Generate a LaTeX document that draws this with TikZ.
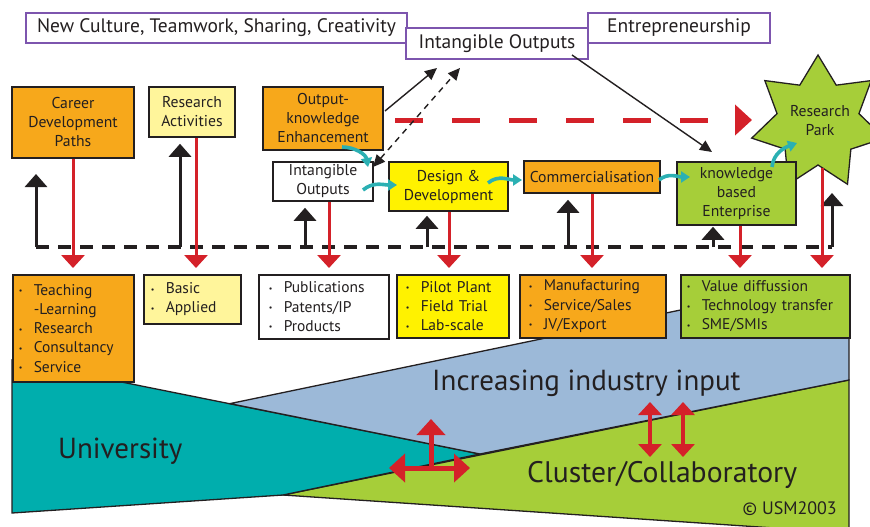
\documentclass[tikz,border=0pt]{standalone}
\usepackage{fontspec}
\setmainfont{PT Sans}
\usetikzlibrary{arrows.meta,calc}
\definecolor{orangebox}{HTML}{F7A81B}
\definecolor{lightyel}{HTML}{FFF59B}
\definecolor{yelbox}{HTML}{FFF200}
\definecolor{greenbox}{HTML}{A6CE39}
\definecolor{tealreg}{HTML}{00AEAD}
\definecolor{bluereg}{HTML}{9CB9D8}
\definecolor{redar}{HTML}{D42129}
\definecolor{purpleline}{HTML}{7D55AE}
\definecolor{tealar}{HTML}{2BB0B3}
\definecolor{txt}{HTML}{231F20}
\newcommand{\bi}[1]{\makebox[15pt][l]{\raisebox{1.5pt}{\fontsize{8}{8}\selectfont\textbullet}}#1}
\newcommand{\nb}[1]{\hspace*{15pt}#1}
\tikzset{
 box/.style={draw=txt, line width=1.5pt, text=txt, font=\fontsize{15.7}{19}\selectfont, align=center, inner sep=0pt},
 topbox/.style={draw=purpleline, line width=1.5pt, fill=white, text=txt, font=\fontsize{19.5}{22}\selectfont, inner sep=0pt},
 listbox/.style={draw=txt, line width=1.5pt, text=txt, font=\fontsize{15.5}{19.3}\selectfont, align=left, anchor=north west, inner ysep=0pt},
 region/.style={draw=txt, line width=1.3pt},
 bigtext/.style={text=txt, font=\fontsize{29}{34}\selectfont, inner sep=0pt},
 uparrow/.style={line width=3pt, draw=txt, -{Triangle[width=22pt,length=13pt]}},
 downarrow/.style={line width=3pt, draw=redar, -{Triangle[width=23pt,length=13pt]}},
 thinarrow/.style={line width=1.4pt, draw=txt, -{Triangle[width=11pt,length=12pt]}},
 tealarrow/.style={line width=3.6pt, draw=tealar, -{Triangle[width=11pt,length=9pt]}},
 crossarrow/.style={line width=5pt, draw=redar, -{Triangle[width=28pt,length=16pt]}},
 dblarrow/.style={line width=3.5pt, draw=redar, {Triangle[width=23pt,length=13pt]}-{Triangle[width=23pt,length=13pt]}},
}
\begin{document}
\begin{tikzpicture}[x=1pt,y=-1pt]
\useasboundingbox (0,0) rectangle (870,527);
\fill[white] (0,0) rectangle (870,527);

% ---- bottom regions
\draw[region, fill=greenbox] (283,495) -- (849,380) -- (849,533) -- cycle;
\draw[region, fill=tealreg] (12,360) -- (480,454) -- (283,495) -- (12,513) -- cycle;
\draw[region, fill=bluereg] (230,403.6) -- (480,454) -- (849,380) -- (849,275) -- cycle;

\node[bigtext, anchor=base west] (univ) at (58,458) {University};
\node[bigtext, anchor=base west] (ind) at (432,390) {Increasing industry input};
\node[bigtext, anchor=base west, font=\fontsize{29.7}{34}\selectfont] (clus) at (527,482) {Cluster/Collaboratory};
\node[text=txt, font=\fontsize{18}{20}\selectfont, inner sep=0pt, anchor=base east] (copy) at (837,514) {© USM2003};

% red arrows in regions
\coordinate (cx) at (431,468);
\draw[crossarrow] (cx) -- (431,419);
\draw[crossarrow, {Triangle[width=28pt,length=16pt]}-{Triangle[width=28pt,length=16pt]}] (389,468) -- (470,468);
\draw[dblarrow] (650,402) -- (650,457);
\draw[dblarrow] (683,402) -- (683,457);

% ---- top boxes
\node[topbox, minimum width=381pt, minimum height=30pt] (culture) at (216.5,28) {New Culture, Teamwork, Sharing, Creativity};
\node[topbox, minimum width=182pt, minimum height=30pt] (entre) at (679,28) {Entrepreneurship};
\node[topbox, minimum width=182pt, minimum height=31pt] (intop) at (497,43.5) {Intangible Outputs};

% ---- star
\foreach \i in {0,...,6} {
  \coordinate (so\i) at ({818+68*cos(90+\i*360/7)},{123-68*sin(90+\i*360/7)});
  \coordinate (si\i) at ({818+42*cos(90+\i*360/7+180/7)},{123-42*sin(90+\i*360/7+180/7)});
}
\draw[fill=greenbox, draw=txt, line width=1.3pt] (so0) -- (si0) -- (so1) -- (si1) -- (so2) -- (si2) -- (so3) -- (si3) -- (so4) -- (si4) -- (so5) -- (si5) -- (so6) -- (si6) -- cycle;
\node[text=txt, font=\fontsize{15.7}{19}\selectfont, align=center, inner sep=0pt] (park) at (820,121) {Research\\Park};

% ---- row 1 boxes
\node[box, fill=orangebox, minimum width=122pt, minimum height=71pt] (career) at (73,122.5) {Career\\Development\\Paths};
\node[box, fill=lightyel, minimum width=86pt, minimum height=50pt] (ra) at (192,112) {Research\\Activities};
\node[box, fill=orangebox, minimum width=120pt, minimum height=63pt] (okb) at (323,118.5) {Output-\\knowledge\\Enhancement};
\node[box, fill=white, minimum width=100pt, minimum height=39pt] (io) at (323,181.5) {Intangible\\Outputs};
\node[box, fill=yelbox, minimum width=119pt, minimum height=49pt] (dd) at (448.5,186.5) {Design \&\\Development};
\node[box, fill=orangebox, minimum width=136pt, minimum height=32pt] (com) at (592,177) {Commercialisation};
\node[box, fill=greenbox, minimum width=119pt, minimum height=63pt] (kbe) at (736.5,193.5) {knowledge\\based\\Enterprise};

% ---- row 2 list boxes
\node[listbox, fill=orangebox, inner xsep=6pt, text width=109pt, minimum height=107pt] (l1) at (12,274)
  {\bi{Teaching}\\\nb{-Learning}\\\bi{Research}\\\bi{Consultancy}\\\bi{Service}};
\node[listbox, fill=lightyel, inner xsep=7pt, text width=83pt, minimum height=49pt] (l2) at (143,274)
  {\bi{Basic}\\\bi{Applied}};
\node[listbox, fill=white, inner xsep=10pt, text width=110pt, minimum height=64pt] (l3) at (258,274)
  {\bi{Publications}\\\bi{Patents/IP}\\\bi{Products}};
\node[listbox, fill=yelbox, inner xsep=9pt, text width=94pt, minimum height=63pt] (l4) at (396,274)
  {\bi{Pilot Plant}\\\bi{Field Trial}\\\bi{Lab-scale}};
\node[listbox, fill=orangebox, inner xsep=9pt, text width=128pt, minimum height=63pt] (l5) at (519,274)
  {\bi{Manufacturing}\\\bi{Service/Sales}\\\bi{JV/Export}};
\node[listbox, fill=greenbox, inner xsep=6pt, text width=157pt, minimum height=63pt] (l6) at (680,274)
  {\bi{Value diffussion}\\\bi{Technology transfer}\\\bi{SME/SMIs}};

% ---- dashed feedback line and up arrows
\coordinate (dl) at (36,247);
\coordinate (dr) at (832,247);
\draw[line width=4pt, draw=txt, dash pattern=on 13pt off 9pt] (dl) -- (dr);
\coordinate (lefttip) at (36,174);
\coordinate (parktip) at (832,193);
\draw[uparrow] (dl) -- (lefttip);
\draw[uparrow] (dr) -- (parktip);
\draw[uparrow] (180,247) -- ([yshift=-6pt]ra.south -| 180,0);
\draw[uparrow] (305,247) -- ([yshift=-6pt]io.south -| 305,0);
\draw[uparrow] (427,247) -- ([yshift=-4pt]dd.south -| 427,0);
\draw[uparrow] (568,247) -- ([yshift=-6pt]com.south -| 568,0);
\draw[uparrow] (713,247) -- ([yshift=-1pt]kbe.south -| 713,0);

% ---- red down arrows
\draw[downarrow] (career.south -| 73,0) -- ([yshift=6pt]l1.north -| 73,0);
\draw[downarrow] (ra.south -| 196,0) -- ([yshift=6pt]l2.north -| 196,0);
\draw[downarrow] (io.south -| 329,0) -- ([yshift=6pt]l3.north -| 329,0);
\draw[downarrow] (dd.south -| 449,0) -- ([yshift=6pt]l4.north -| 449,0);
\draw[downarrow] (com.south -| 592,0) -- ([yshift=6pt]l5.north -| 592,0);
\draw[downarrow] (kbe.south -| 740,0) -- ([yshift=6pt]l6.north -| 740,0);
\draw[downarrow] (822,168) -- ([yshift=6pt]l6.north -| 822,0);

% ---- red dashed arrow
\coordinate (rdA) at (395,120);
\coordinate (rdB) at (752,120);
\draw[line width=5pt, draw=redar, dash pattern=on 28pt off 29pt, -{Triangle[width=30pt,length=17pt]}] (rdA) -- (rdB);

% ---- thin black arrows
\coordinate (t1) at (437,68);
\draw[thinarrow] (385,111) -- (t1);
\coordinate (t2) at (460,68);
\coordinate (t3) at (373,167);
\draw[thinarrow, dash pattern=on 6pt off 5pt, {Triangle[width=11pt,length=12pt]}-{Triangle[width=11pt,length=12pt]}] (t3) -- (t2);
\coordinate (t4) at (712,152);
\draw[thinarrow] (572,55) -- (t4);

% ---- teal curved arrows
\draw[tealarrow] (342,147) to[out=0,in=100] (368,167);
\draw[tealarrow] (363,190) to[out=40,in=180] (397,185);
\draw[tealarrow] (488,183) to[out=40,in=180] (522,180);
\draw[tealarrow] (659,180) to[out=40,in=180] (690,177);
\draw[tealarrow] (772,167) to[out=85,in=200] (797,143);
\end{tikzpicture}
\end{document}
